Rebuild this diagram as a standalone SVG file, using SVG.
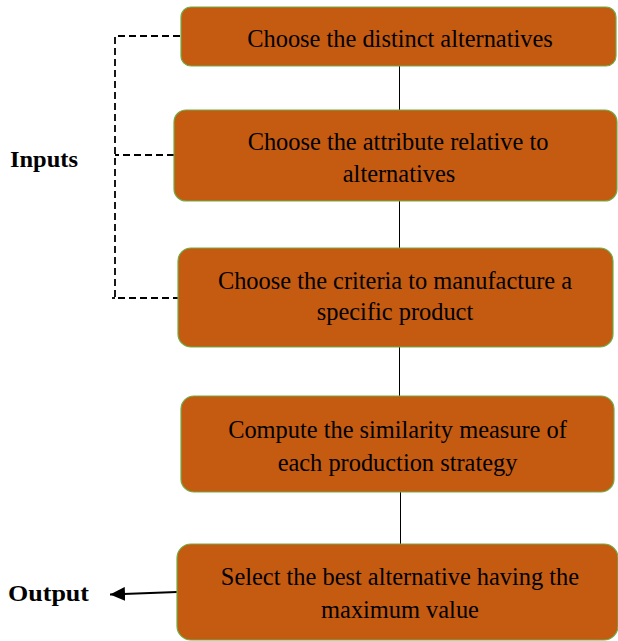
<svg xmlns="http://www.w3.org/2000/svg" width="618" height="641" viewBox="0 0 618 641">
<defs>
<style>
.box{fill:#C55A11;stroke:#70AD47;stroke-width:1.2}
.t{font-family:"Liberation Serif","Times New Roman",serif;font-size:24.4px;fill:#000;text-anchor:middle}
.lbl{font-family:"Liberation Serif","Times New Roman",serif;font-size:23px;font-weight:bold;fill:#000}
.ln{stroke:#000;stroke-width:1;fill:none}
.dash{stroke:#000;stroke-width:1.8;fill:none;stroke-dasharray:7 4}
</style>
<marker id="ah" markerWidth="15" markerHeight="14" refX="15" refY="7" orient="auto" markerUnits="userSpaceOnUse">
<path d="M0,0 L15,7 L0,14 Z" fill="#000"/>
</marker>
</defs>
<rect width="618" height="641" fill="#fff"/>
<g id="connectors">
<line class="ln" x1="399.5" y1="66" x2="399.5" y2="110"/>
<line class="ln" x1="399.5" y1="201" x2="399.5" y2="248"/>
<line class="ln" x1="399.5" y1="347" x2="399.5" y2="396"/>
<line class="ln" x1="400.5" y1="492" x2="400.5" y2="544"/>
<path class="dash" d="M180,36 H115 V298 H178"/>
<path class="dash" d="M174,155 H115"/>
<path class="dash" d="M115,298 H112"/>
<line x1="177" y1="592" x2="110" y2="594.5" stroke="#000" stroke-width="2" marker-end="url(#ah)"/>
</g>
<g id="node1">
<rect class="box" x="181" y="7" width="435" height="59" rx="10"/>
<text class="t" x="400" y="47">Choose the distinct alternatives</text>
</g>
<g id="node2">
<rect class="box" x="174" y="110" width="443" height="91" rx="12"/>
<text class="t" x="398" y="150">Choose the attribute relative to</text>
<text class="t" x="399" y="182">alternatives</text>
</g>
<g id="node3">
<rect class="box" x="178" y="248" width="435" height="99" rx="13"/>
<text class="t" x="395" y="289">Choose the criteria to manufacture a</text>
<text class="t" x="395" y="320">specific product</text>
</g>
<g id="node4">
<rect class="box" x="181" y="396" width="433" height="96" rx="13"/>
<text class="t" x="397.5" y="438">Compute the similarity measure of</text>
<text class="t" x="397.5" y="471">each production strategy</text>
</g>
<g id="node5">
<rect class="box" x="177" y="544" width="441" height="96" rx="14"/>
<text class="t" x="400" y="585">Select the best alternative having the</text>
<text class="t" x="400" y="618">maximum value</text>
</g>
<g id="inputs"><text class="lbl" x="10" y="167" textLength="68" lengthAdjust="spacingAndGlyphs">Inputs</text></g>
<g id="output"><text class="lbl" x="8" y="601" textLength="81" lengthAdjust="spacingAndGlyphs">Output</text></g>
</svg>
